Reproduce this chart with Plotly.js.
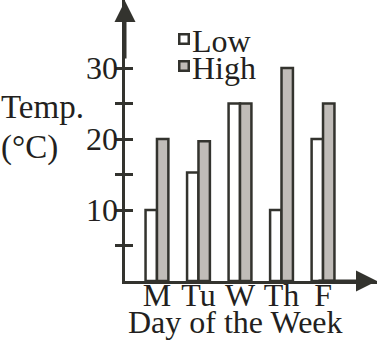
<!DOCTYPE html>
<html><head><meta charset="utf-8">
<script src="https://cdn.plot.ly/plotly-3.0.1.min.js"></script>
<style>html,body{margin:0;padding:0;background:#fff}</style>
</head><body><div id="chart" style="width:378px;height:356px"></div>
<script>
var days = ['M', 'Tu', 'W', 'Th', 'F'];
var lowTemps = [10, 15.3, 25, 10, 20];
var highTemps = [20, 19.7, 25, 30, 25];
var yTickVals = [5, 10, 15, 20, 25, 30];
var yTickText = ['', '10', '', '20', '', '30'];
var seriesNames = ['Low', 'High'];

var ink = '#33332e';
var lowFill = '#ffffff';
var highFill = '#c0bcb8';
var fam = 'Liberation Serif, Times New Roman, serif';
var txt = '#231f20';
function f(size) { return {family: fam, size: size, color: txt}; }

var traces = [
  {type: 'bar', name: seriesNames[0], x: days, y: lowTemps, marker: {color: lowFill, line: {color: ink, width: 2.5}}},
  {type: 'bar', name: seriesNames[1], x: days, y: highTemps, marker: {color: highFill, line: {color: ink, width: 2.5}}},
  {type: 'scatter', x: [days[0]], y: [0], yaxis: 'y2', showlegend: false, hoverinfo: 'skip', mode: 'none'}
];

function px2x(px) { return (px - 125) / 252; }
function py2y(py) { return (281 - py) / 281; }

var layout = {
  width: 378, height: 356,
  margin: {l: 125, r: 1, t: 0, b: 75},
  paper_bgcolor: '#fff', plot_bgcolor: '#fff',
  font: f(32),
  barmode: 'group', bargap: 0.45, bargroupgap: 0,
  showlegend: false,
  xaxis: {range: [-0.77, 5.3], showline: true, linecolor: ink, linewidth: 3, ticks: '', showgrid: false, zeroline: false,
          tickfont: f(32), ticklabelstandoff: -16, fixedrange: true},
  yaxis: {range: [0, 39.6], showline: true, linecolor: ink, linewidth: 3, ticks: 'outside', ticklen: 7, tickwidth: 3, tickcolor: ink,
          tickvals: yTickVals, showticklabels: false, showgrid: false, zeroline: false},
  yaxis2: {range: [0, 39.6], overlaying: 'y', side: 'left', ticks: 'inside', ticklen: 8, tickwidth: 3, tickcolor: ink,
           tickvals: yTickVals, ticktext: yTickText, tickfont: f(32), ticklabelstandoff: 6, showgrid: false, zeroline: false, showline: false},
  annotations: [
    {xref: 'paper', yref: 'paper', x: 0, y: 1, ax: 0, ay: 60, text: '', showarrow: true, arrowhead: 2, arrowsize: 1.4, arrowwidth: 3, arrowcolor: ink},
    {xref: 'paper', yref: 'paper', x: 1, y: 0, ax: -60, ay: 0, text: '', showarrow: true, arrowhead: 2, arrowsize: 1.4, arrowwidth: 3, arrowcolor: ink},
    {xref: 'paper', yref: 'paper', x: px2x(-1), y: py2y(107), xanchor: 'left', yanchor: 'middle', align: 'left', showarrow: false, text: 'Temp.', font: f(33)},
    {xref: 'paper', yref: 'paper', x: px2x(-1), y: py2y(147), xanchor: 'left', yanchor: 'middle', align: 'left', showarrow: false, text: '(°C)', font: f(33)},
    {xref: 'paper', yref: 'paper', x: px2x(235), y: py2y(322), xanchor: 'center', yanchor: 'middle', showarrow: false, text: 'Day of the Week', font: f(32)},
    {xref: 'paper', yref: 'paper', x: px2x(184), y: py2y(39), xanchor: 'center', yanchor: 'middle', showarrow: false, text: ' ', width: 7, height: 7, borderpad: 0, borderwidth: 2.5, bordercolor: ink, bgcolor: lowFill, font: {size: 4}},
    {xref: 'paper', yref: 'paper', x: px2x(184), y: py2y(66), xanchor: 'center', yanchor: 'middle', showarrow: false, text: ' ', width: 7, height: 7, borderpad: 0, borderwidth: 2.5, bordercolor: ink, bgcolor: highFill, font: {size: 4}},
    {xref: 'paper', yref: 'paper', x: px2x(190), y: py2y(41), xanchor: 'left', yanchor: 'middle', showarrow: false, text: seriesNames[0], font: f(32)},
    {xref: 'paper', yref: 'paper', x: px2x(190), y: py2y(68), xanchor: 'left', yanchor: 'middle', showarrow: false, text: seriesNames[1], font: f(32)}
  ]
};
Plotly.newPlot('chart', traces, layout, {displayModeBar: false, staticPlot: true});
</script></body></html>
